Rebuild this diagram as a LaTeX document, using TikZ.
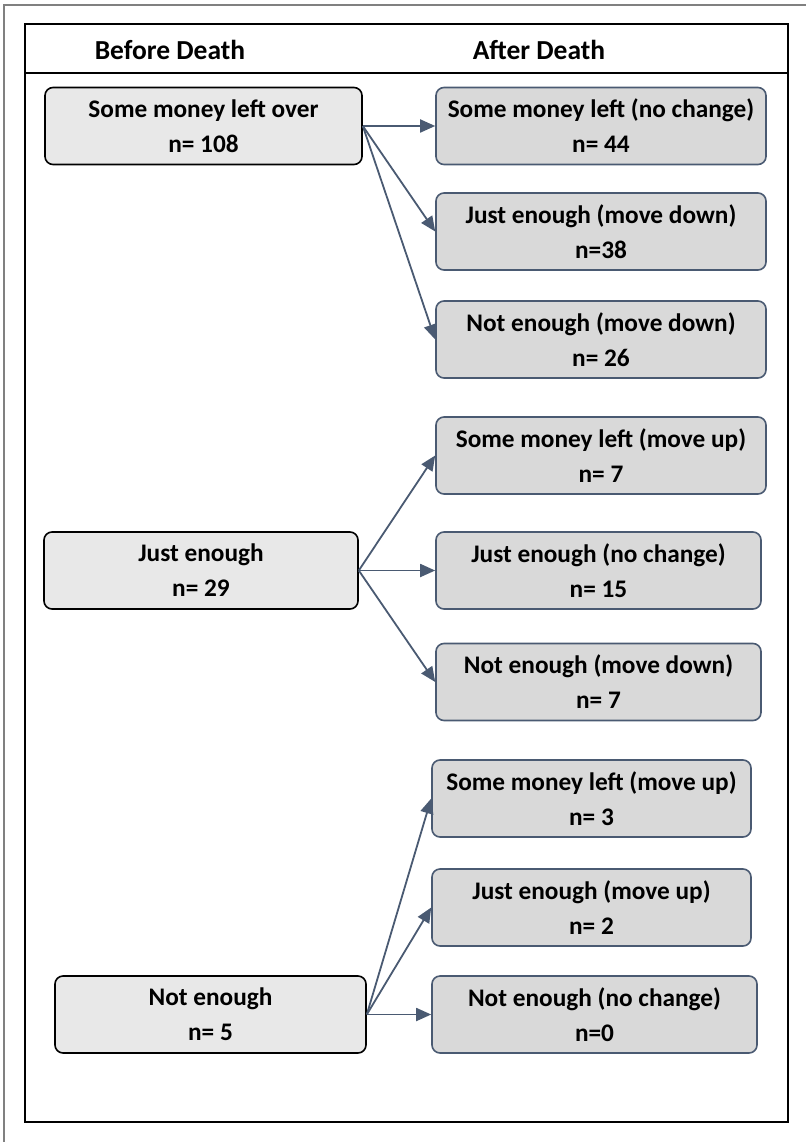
\documentclass[tikz,border=0pt]{standalone}
\usepackage{fontspec}
\setmainfont{Carlito}
\usepackage{xcolor}
\usetikzlibrary{arrows.meta,positioning}

\definecolor{slate}{HTML}{4A5A72}
\definecolor{fillB}{HTML}{E8E8E8}
\definecolor{fillA}{HTML}{D9D9D9}

\begin{document}
\begin{tikzpicture}[
  x=1pt, y=-1pt,
  >={Triangle[length=15pt,width=13pt]},
  font=\fontsize{25.3}{35}\selectfont\bfseries,
  before/.style={rectangle, rounded corners=8pt, draw=black, line width=1.6pt,
                 fill=fillB, align=center, inner sep=0pt, minimum height=77pt},
  after/.style={rectangle, rounded corners=8pt, draw=slate, line width=1.6pt,
                fill=fillA, align=center, inner sep=0pt, minimum height=77pt},
  flow/.style={->, line width=1.8pt, slate},
  head/.style={font=\fontsize{27.5}{30}\selectfont\bfseries},
]
\useasboundingbox (0,0) rectangle (806,1142);

% outer page frame (only top and left visible)
\draw[gray, line width=1.2pt] (4,1142) -- (4,5) -- (806,5);

% inner frame with header row
\draw[black, line width=1.6pt] (25,24) rectangle (788,1122);
\draw[black, line width=1.4pt] (25,73) -- (788,73);
\node[head] (hB) at (170,50) {Before Death};
\node[head] (hA) at (539,50) {After Death};

% before death states
\node[before, minimum width=317pt] (BS) at (203.5,126)  {Some money left over\\n= 108};
\node[before, minimum width=314pt] (BJ) at (201,570.5)  {Just enough\\n= 29};
\node[before, minimum width=311pt] (BN) at (210.5,1014.5) {Not enough\\n= 5};

% after death states
\node[after, minimum width=330pt] (AS1) at (601,126)    {Some money left (no change)\\n= 44};
\node[after, minimum width=330pt] (AJ1) at (601,231.5)  {Just enough (move down)\\n=38};
\node[after, minimum width=330pt] (AN1) at (601,339.5)  {Not enough (move down)\\n= 26};
\node[after, minimum width=330pt] (AS2) at (601,455.5)  {Some money left (move up)\\n= 7};
\node[after, minimum width=325pt] (AJ2) at (598.5,570.5) {Just enough (no change)\\n= 15};
\node[after, minimum width=325pt] (AN2) at (598.5,682)  {Not enough (move down)\\n= 7};
\node[after, minimum width=319pt] (AS3) at (591.5,798.5) {Some money left (move up)\\n= 3};
\node[after, minimum width=319pt] (AJ3) at (591.5,907.5) {Just enough (move up)\\n= 2};
\node[after, minimum width=325pt] (AN3) at (594.5,1014.5) {Not enough (no change)\\n=0};

% transitions
\foreach \c in {AS1,AJ1,AN1} {\draw[flow] (BS.east) -- (\c.west);}
\foreach \c in {AS2,AJ2,AN2} {\draw[flow] (BJ.east) -- (\c.west);}
\foreach \c in {AS3,AJ3,AN3} {\draw[flow] (BN.east) -- (\c.west);}

\end{tikzpicture}
\end{document}
